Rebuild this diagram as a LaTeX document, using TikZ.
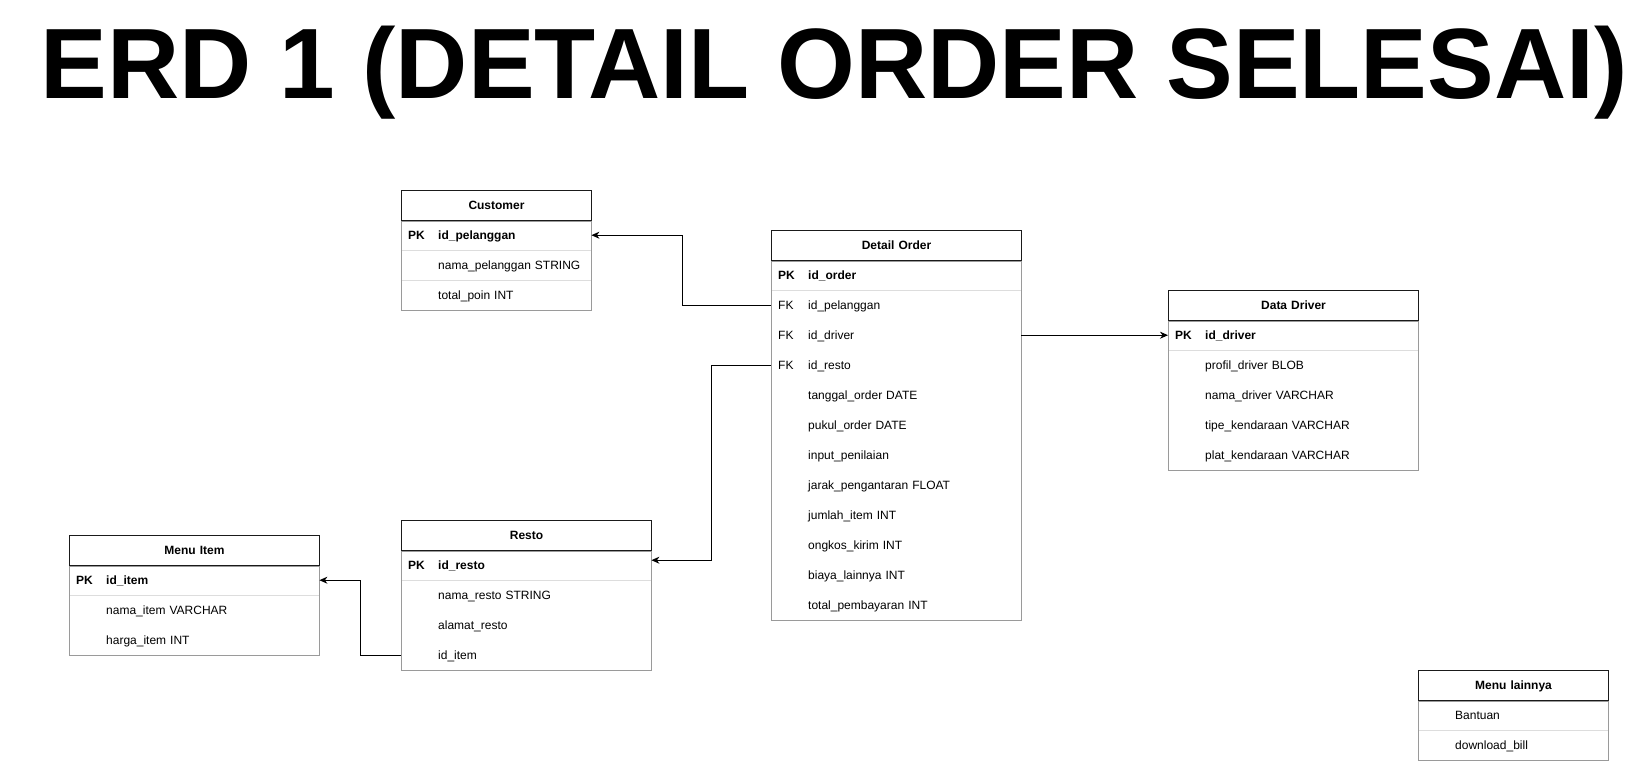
\documentclass[tikz,border=0pt]{standalone}
\usepackage{fontspec}
\setmainfont{Liberation Sans}
\usetikzlibrary{arrows.meta}
\definecolor{hdrline}{HTML}{1A1A1A}
\definecolor{bodyline}{HTML}{9A9A9A}
\definecolor{sepline}{HTML}{DDDDDD}
\newcommand\keycol[1]{\makebox[30pt][l]{#1}}
\tikzset{
  cell/.style={rectangle, anchor=north west, minimum height=30pt, inner xsep=7pt, inner ysep=0pt,
    text height=9pt, text depth=0.4pt, align=left, font=\fontsize{12}{14}\selectfont},
  narrow/.style={text width=176pt},
  wide/.style={text width=236pt},
  hdrcell/.style={cell, draw=hdrline, line width=1pt, align=center, font=\fontsize{12}{14}\selectfont\bfseries},
  pkcell/.style={cell, font=\fontsize{12}{14}\selectfont\bfseries},
  body/.style={draw=bodyline, line width=1pt},
  sep/.style={draw=sepline, line width=1pt},
  conn/.style={draw=black, line width=1pt, -{Stealth[length=8pt,width=7pt,inset=2.5pt]}},
  titlefont/.style={font=\fontsize{100}{100}\selectfont\bfseries}
}
\begin{document}
\begin{tikzpicture}[x=1pt,y=-1pt]
\useasboundingbox (0,0) rectangle (1627,761);

\node[titlefont, anchor=base, inner sep=0pt] (title) at (834,98) {ERD 1 (DETAIL ORDER SELESAI)};

% Customer
\node[hdrcell, narrow] (cu-h) at (401,190) {Customer};
\node[pkcell, narrow] (cu-pk) at (401,220) {\keycol{PK}id\_pelanggan};
\node[cell, narrow] (cu-nm) at (401,250) {\keycol{}nama\_pelanggan STRING};
\node[cell, narrow] (cu-tp) at (401,280) {\keycol{}total\_poin INT};
\draw[sep] (cu-pk.south west) -- (cu-pk.south east);
\draw[sep] (cu-nm.south west) -- (cu-nm.south east);
\draw[body] (cu-h.south west) rectangle (cu-tp.south east);

% Detail Order
\node[hdrcell, wide] (do-h) at (771,230) {Detail Order};
\node[pkcell, wide] (do-pk) at (771,260) {\keycol{PK}id\_order};
\node[cell, wide] (do-pel) at (771,290) {\keycol{FK}id\_pelanggan};
\node[cell, wide] (do-drv) at (771,320) {\keycol{FK}id\_driver};
\node[cell, wide] (do-res) at (771,350) {\keycol{FK}id\_resto};
\node[cell, wide] (do-tgl) at (771,380) {\keycol{}tanggal\_order DATE};
\node[cell, wide] (do-pkl) at (771,410) {\keycol{}pukul\_order DATE};
\node[cell, wide] (do-inp) at (771,440) {\keycol{}input\_penilaian};
\node[cell, wide] (do-jrk) at (771,470) {\keycol{}jarak\_pengantaran FLOAT};
\node[cell, wide] (do-jml) at (771,500) {\keycol{}jumlah\_item INT};
\node[cell, wide] (do-ong) at (771,530) {\keycol{}ongkos\_kirim INT};
\node[cell, wide] (do-bya) at (771,560) {\keycol{}biaya\_lainnya INT};
\node[cell, wide] (do-tot) at (771,590) {\keycol{}total\_pembayaran INT};
\draw[sep] (do-pk.south west) -- (do-pk.south east);
\draw[body] (do-h.south west) rectangle (do-tot.south east);

% Data Driver
\node[hdrcell, wide] (dd-h) at (1168,290) {Data Driver};
\node[pkcell, wide] (dd-pk) at (1168,320) {\keycol{PK}id\_driver};
\node[cell, wide] (dd-pr) at (1168,350) {\keycol{}profil\_driver BLOB};
\node[cell, wide] (dd-nm) at (1168,380) {\keycol{}nama\_driver VARCHAR};
\node[cell, wide] (dd-tp) at (1168,410) {\keycol{}tipe\_kendaraan VARCHAR};
\node[cell, wide] (dd-pl) at (1168,440) {\keycol{}plat\_kendaraan VARCHAR};
\draw[sep] (dd-pk.south west) -- (dd-pk.south east);
\draw[body] (dd-h.south west) rectangle (dd-pl.south east);

% Menu Item
\node[hdrcell, wide] (mi-h) at (69,535) {Menu Item};
\node[pkcell, wide] (mi-pk) at (69,565) {\keycol{PK}id\_item};
\node[cell, wide] (mi-nm) at (69,595) {\keycol{}nama\_item VARCHAR};
\node[cell, wide] (mi-hg) at (69,625) {\keycol{}harga\_item INT};
\draw[sep] (mi-pk.south west) -- (mi-pk.south east);
\draw[body] (mi-h.south west) rectangle (mi-hg.south east);

% Resto
\node[hdrcell, wide] (re-h) at (401,520) {Resto};
\node[pkcell, wide] (re-pk) at (401,550) {\keycol{PK}id\_resto};
\node[cell, wide] (re-nm) at (401,580) {\keycol{}nama\_resto STRING};
\node[cell, wide] (re-al) at (401,610) {\keycol{}alamat\_resto};
\node[cell, wide] (re-it) at (401,640) {\keycol{}id\_item};
\draw[sep] (re-pk.south west) -- (re-pk.south east);
\draw[body] (re-h.south west) rectangle (re-it.south east);

% Menu lainnya
\node[hdrcell, narrow] (ml-h) at (1418,670) {Menu lainnya};
\node[cell, narrow] (ml-b) at (1418,700) {\keycol{}Bantuan};
\node[cell, narrow] (ml-d) at (1418,730) {\keycol{}download\_bill};
\draw[sep] (ml-b.south west) -- (ml-b.south east);
\draw[body] (ml-h.south west) rectangle (ml-d.south east);

% Connectors
\draw[conn] (do-pel.west) -- ++(-89,0) |- (cu-pk.east);
\draw[conn] (do-drv.east) -- (dd-pk.west);
\draw[conn] (do-res.west) -- ++(-60,0) |- ([yshift=5pt]re-pk.east);
\draw[conn] (re-it.west) -- ++(-41,0) |- (mi-pk.east);
\end{tikzpicture}
\end{document}
